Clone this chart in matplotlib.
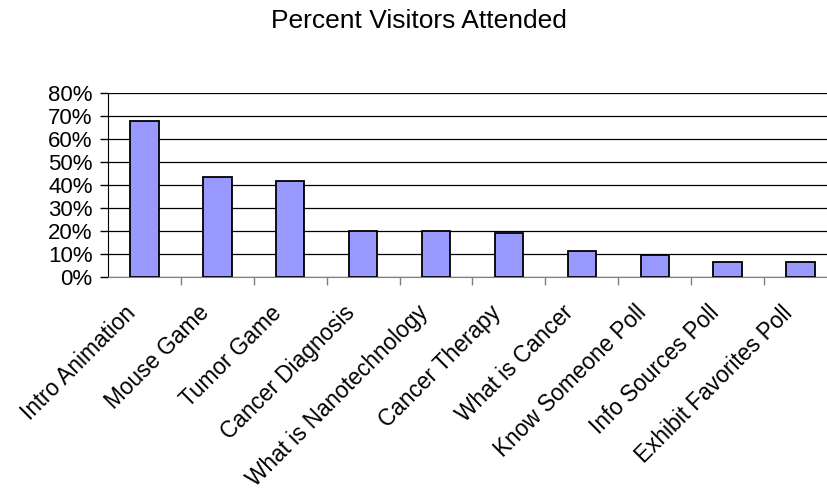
import matplotlib.pyplot as plt
import matplotlib.transforms as mtransforms
import numpy as np
from matplotlib.ticker import FuncFormatter

plt.rcParams['font.family'] = ['Liberation Sans', 'DejaVu Sans']

# exhibit stations and share of visitors (%)
stations = ['Intro Animation', 'Mouse Game', 'Tumor Game', 'Cancer Diagnosis',
            'What is Nanotechnology', 'Cancer Therapy', 'What is Cancer',
            'Know Someone Poll', 'Info Sources Poll', 'Exhibit Favorites Poll']
pct = [67.6, 43.2, 41.6, 19.7, 19.7, 18.8, 11.0, 9.4, 6.4, 6.4]

fig = plt.figure(figsize=(8.28, 4.94), dpi=100)
ax = fig.add_axes([108/828, 217.3/494, 729/828, 184/494])

x = np.arange(len(stations))
ax.bar(x, pct, width=0.39, color='#9999FF', edgecolor='black', linewidth=1.3, zorder=3)

ax.set_xlim(-0.5, len(stations) - 0.5)
ax.set_ylim(0, 80)
ax.set_yticks(np.arange(0, 81, 10))
ax.yaxis.set_major_formatter(FuncFormatter(lambda v, p: '%d%%' % v))
ax.grid(axis='y', color='black', linewidth=0.9, zorder=0)

ax.set_xticks(x)
ax.set_xticklabels(stations, rotation=45, ha='right', rotation_mode='anchor', fontsize=16.3)
ax.set_xticks(x[:-1] + 0.5, minor=True)
ax.tick_params(axis='x', which='major', length=0, pad=22)
ax.tick_params(axis='x', which='minor', length=6, color='#808080', width=1)
ax.tick_params(axis='y', length=6, width=1, labelsize=16, pad=5)

# nudge the slanted labels left/up to sit like the original
shift = mtransforms.ScaledTranslation(-20/100, 6/100, fig.dpi_scale_trans)
for lab in ax.get_xticklabels():
    lab.set_transform(lab.get_transform() + shift)

for s in ['top', 'right']:
    ax.spines[s].set_visible(False)
ax.spines['left'].set_color('black')
ax.spines['bottom'].set_color('#808080')

fig.text(419/828, 1 - 21/494, 'Percent Visitors Attended', ha='center', va='center', fontsize=19)

fig.savefig('out.png', dpi=100)
